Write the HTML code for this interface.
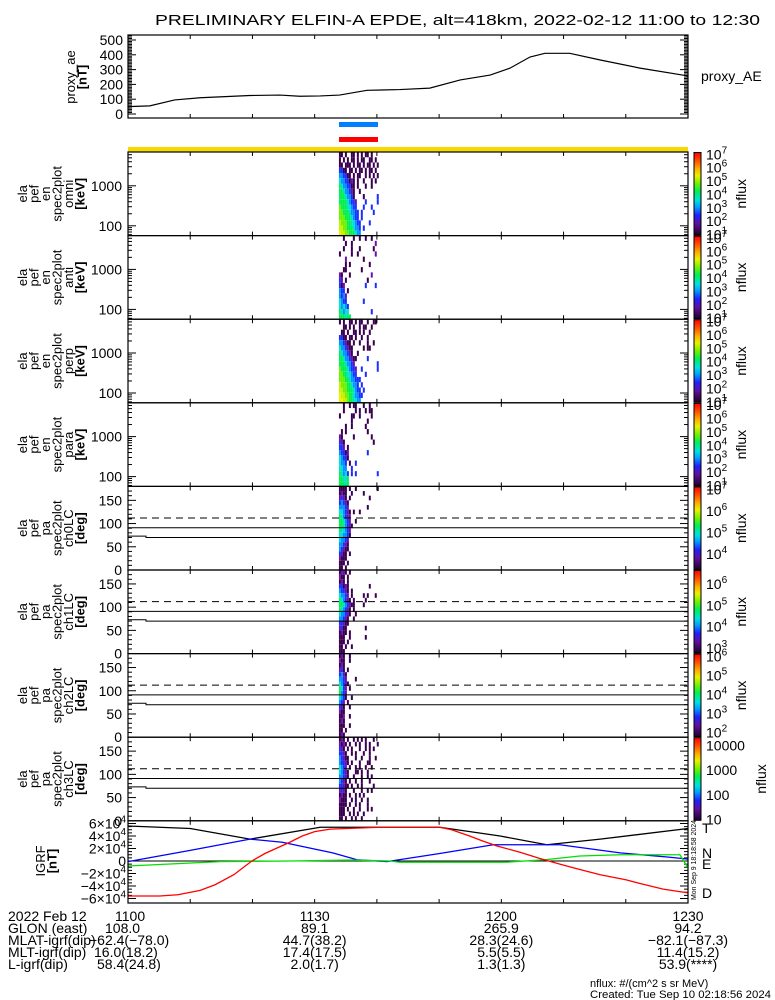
<!DOCTYPE html>
<html><head><meta charset="utf-8">
<style>
html,body{margin:0;padding:0;background:#fff;}
svg{display:block;font-family:"Liberation Sans",sans-serif;}
text{fill:#000;}
</style></head>
<body>
<svg id="chart" width="775" height="1000" viewBox="0 0 775 1000" xmlns="http://www.w3.org/2000/svg">
<defs>
<linearGradient id="cbar" x1="0" y1="0" x2="0" y2="1">
<stop offset="0" stop-color="#ff0000"/><stop offset="0.1" stop-color="#ff5000"/>
<stop offset="0.2" stop-color="#ffb000"/><stop offset="0.28" stop-color="#e8f000"/>
<stop offset="0.38" stop-color="#70f000"/><stop offset="0.47" stop-color="#00f050"/>
<stop offset="0.58" stop-color="#00e0e0"/><stop offset="0.66" stop-color="#00a0ff"/>
<stop offset="0.76" stop-color="#2020ff"/><stop offset="0.86" stop-color="#6010a0"/>
<stop offset="1" stop-color="#200028"/>
</linearGradient>
</defs>
</svg>
<script>
// ---- data ----
const aeTimes = [0,3.5,7.5,11.6,19.6,24.4,27.6,30.9,34,38.4,43.7,48.5,53.4,58.2,61.4,64.6,67,71,75.9,82.3,90];
const aeValues = [50,55,95,110,125,128,120,122,128,160,165,175,230,263,310,385,410,410,365,310,257];
const igrfTTimes = [0,10,19.6,30.9,50.1,59.8,67.3,75.9,90];
const igrfTValues = [56000,52000,35000,54000,54000,40000,26000,35000,52000];
const igrfNTimes = [0,10,19.6,24.8,32.9,36.8,41.6,50.1,58.7,69.4,79.1,87.1,90];
const igrfNValues = [-1000,17000,35000,30000,13000,2000,-1000,12000,26000,26000,13000,6000,3000];
const igrfETimes = [0,14.8,26,35.7,42.1,43.7,60.6,67,72.6,79.1,88.7,90];
const igrfEValues = [-8000,-1000,0,1500,0,-2000,-2000,2000,8000,10000,10000,-11000];
const igrfDTimes = [0,5.1,8,11.6,14,17,19.9,22,26,28,30,32.5,40.5,50.1,52,54.9,57,59.3,63,66.2,69.4,72,75.9,80,82.3,86,90];
const igrfDValues = [-56000,-56000,-54000,-47000,-38000,-22000,0,12000,30000,40000,47000,51000,54000,54000,50000,40000,32000,24000,14000,4000,-5000,-12000,-22000,-30000,-36000,-45000,-51000];
const timeTickLabels = ["1100","1130","1200","1230"];
const glonLabels = ["108.0","89.1","265.9","94.2"];
const mlatLabels = ["","44.7(38.2)","28.3(24.6)","-82.1(-87.3)"];
const mltLabels = ["","17.4(17.5)","5.5(5.5)","11.4(15.2)"];
const lLabels = ["58.4(24.8)","2.0(1.7)","1.3(1.3)","53.9(****)"];
const specStart = 33.9, specDt = 0.32;
const energyEdges = [7000,5173,3823,2826,2088,1543,1141,843,623,461,340,252,186,137,102,75,56];
const paEdges = [180,170,160,150,140,130,120,110,100,90,80,70,60,50,40,30,20,10,0];
const omniSpec = ["pp.p..pp.p.p.pp.p...","p.p.p.pp.p.pp..pp.p.","pp.ppp.p.pp.p.pp.p.p","bbpp.pp.p.pp.p.pp.p.","ccbbpp.p.pp..p.p.p.p","tccbbpvp.p..p...p.p.","gtccbbpp.p...p..p...","ggtccbvp..p.........","gggtccbp....p......b","ggggtcbbv....b.....b","lgggttcbb...b...b...","llgggtccbb.b.....b..","lllgggtcbb.b........","ylllggttcbb....b....","yyllgggtccb.b.......","Yyyllgggtcc........."];
const antiSpec = ["..p....p..p..p..p...","...p..p...........v.","..p...p...p......p..","p.....p..p........v.","...v........p.......","...p.p.........p....","..pp.......p........","vp...p..........v...","bv.p..........p.....","bpv..........b....b.","cbb.p...............","cbcv................","tcbb........b.......","tctcb...............","gtctt...........b...","gggtgg.............."];
const perpSpec = ["p.p..pp.p.pp..p..pp.","..pp.p.p..p.pp..p...",".pp.p..pp.p.p..p....","bbpp.pp.p..p..p.....","ccbvpp.p..p...p..p..","tccbvpp.....p.pp....","gtccbvp..p..........","ggtccbvpp.....b.....","gggtccbv...........b","lgggtcbbv..b.......b","llggttcbb....b......","lllggtccbbb.........","ylllggtccb.b........","yyllgggtcbb.b.......","YyyllggtccbB........","YYyylggttcc........."];
const paraSpec = ["..p..p.pp...p..p....","..p.....p.p..p.pp...","p.....pp..p.....p...","......p.......p.....","...p..p......p......",".p.p..........p.....","vp.....p........p...","bvp..............p..","bbv.p...............","cbbpv.........b.....","tcbbp...............","tccb.p..b...........","ttcc..b.............","gtctb.b.b..........b","ggttg...............","gggtg..............."];
const ch0Spec = ["pppp.p..p..........p","pvpp..p.....p.......","vbvp.p.........p....","bcbvp...............","cccbv.........p.....","ttcbvp.p..p.........","gtcbvv..............","ggtcbv..p...........","ggtcbvp.............","gttcbv..............","ttccbp..............","tccbv...............","ccbvp...............","cbvpp...............","bvpp.p..............","vppp................","ppp.p...............","pp.p................"];
const ch1Spec = ["pvvp.p..............","vpp.p...............","pvp.p...............","bbpvp..........p....","cbbvp.p.............","tccbv.p.....p.p...p.","gtcbvp.p.....p......","ggtcbvpp....p.......","gtcbvp.p............","tccbvp..p...........","ccbvp..p............","bbvpp...............","vbpp.........p......","pvpp.p..............","ppp..p.......p......","ppp.p...............","pp.p..p.............","ppp................."];
const ch2Spec = ["pvp..p..............","vpp..p..............","pvp.................","vbp.p...............","bcvp................","ccbv....p...........","tcbvp...............","gtbv.p..............","gcbv................","tcbp..p.............","cbv.p...............","bvp..p..............","vpp.................","ppv..p..............","pvp.................","ppp..p..............","pp.p................","pvp................."];
const ch3Spec = ["pvp.p..p.p.p.p...p..","vpvp.p..p.p..p.p...p","bvp.p.p...p..p.p.p..","bbvp..p.p...p..p....","cbvpp...p..p...p..p.","cbbvp.p...p...pp....","tcbv.p..p.p..p..p...","tcbvp...pp.p..p.....","ccbvp..p...p..p.p...","cbvp.p..p..p...p....","bbvpp.p..p.p.....p..","vbvp...p...p..p.p...","pvpp.p..p.p.p.......","vppp..p.p..p..p.....","pppp.p..p.p...p.....","ppp.p..p..p...p.p...","ppp..p.p.p..p.......","pp.p..p.p..p........"];
const paLines = [112, 91, 70];

// ---- helpers ----
const NS = "http://www.w3.org/2000/svg";
const svg = document.getElementById('chart');
function mk(tag, a, p){ const e=document.createElementNS(NS,tag); for(const k in a) e.setAttribute(k,a[k]); (p||svg).appendChild(e); return e; }
function tx(s, a, p){ const e=mk('text',a,p); e.textContent=s; return e; }
const X0=128, X1=688, TMAX=90;
const X = t => X0 + t*(X1-X0)/TMAX;
const colors = {p:'#3a0050',v:'#6a10b0',b:'#1830ff',B:'#1830ff',c:'#0090ff',t:'#00e0d0',g:'#00f050',l:'#70f000',y:'#c8f000',Y:'#f0f000'};
const PH = 83.6;
const tops = [152,152+PH,152+2*PH,152+3*PH,152+4*PH,152+5*PH,152+6*PH,152+7*PH];

// ---- title ----
const title = tx("PRELIMINARY ELFIN-A EPDE, alt=418km, 2022-02-12 11:00 to 12:30",{x:155,y:25,'font-size':15,textLength:605,lengthAdjust:'spacingAndGlyphs'});



function xTicks(top, bot, g){
  for(let t=10;t<TMAX;t+=10){
    const a=mk('line',{x1:X(t),x2:X(t),y1:top,y2:top+4,stroke:'#000'},g);
    
    
    const b=mk('line',{x1:X(t),x2:X(t),y1:bot-4,y2:bot,stroke:'#000'},g);
    
    
  }
}
function frame(top, bot, g){
  const r=mk('rect',{x:X0,y:top,width:X1-X0,height:bot-top,fill:'none',stroke:'#000','stroke-width':1.2},g);
  
  
}
function yLabelCols(words, cx0, cy, g, boldLast){
  words.forEach((w,i)=>{
    const x=cx0+i*11.5;
    const t=tx(w,{x:x,y:cy,'font-size':13,'text-anchor':'middle',transform:`rotate(-90 ${x} ${cy})`,'font-weight':(boldLast&&i===words.length-1)?'bold':'normal'},g);
    
    
  });
}
function ytick(y, len, g){
  const a=mk('line',{x1:X0,x2:X0+len,y1:y,y2:y,stroke:'#000'},g);
  
  
  const b=mk('line',{x1:X1-len,x2:X1,y1:y,y2:y,stroke:'#000'},g);
  
  
}

// ---- proxy AE panel ----
{
  const g=mk('g',{});
  
  
  const top=35, bot=118;
  const Y = v => 114 - v*0.148;
  for(let v=0; v<=530; v+=10){ ytick(Y(v), v%100===0?8:4, g); }
  [0,100,200,300,400,500].forEach(v=>{
    const t=tx(String(v),{x:123,y:Y(v)+5,'font-size':14,'text-anchor':'end'},g);
    
    
  });
  const pts=aeTimes.map((t,i)=>X(t)+','+Y(aeValues[i])).join(' ');
  const l=mk('polyline',{points:pts,fill:'none',stroke:'#000','stroke-width':1.2},g);
  
  
  frame(top,bot,g); xTicks(top,bot,g);
  yLabelCols(['proxy_ae','[nT]'],75,77,g,true);
  const r=tx('proxy_AE',{x:701,y:81,'font-size':14},g);
  
  
}

// ---- science zone bars ----
{
  const b=mk('rect',{x:339,y:122,width:39,height:5,fill:'#0080ff'});
  
  
  const r=mk('rect',{x:339,y:137,width:39,height:5,fill:'#ff0000'});
  
  
  const y=mk('rect',{x:X0,y:147,width:X1-X0,height:5,fill:'#f8d800'});
  
  
}

// ---- colorbar ----
function colorbar(top, lo, hi, labels, g, plain){
  const r=mk('rect',{x:694,y:top+0.5,width:7,height:PH-1,fill:'url(#cbar)',stroke:'#000','stroke-width':1},g);
  
  
  labels.forEach(p=>{
    const y=top+PH-(p-lo)/(hi-lo)*PH;
    const t=tx('',{x:706,y:y+6,'font-size':14},g);
    if(plain){ t.textContent=String(Math.pow(10,p)); }
    else {
      t.textContent='10';
      const s=mk('tspan',{dy:-6,'font-size':10},t); s.textContent=String(p);
    }
    
    
  });
  const cy=top+PH/2, cx=plain?766:746;
  const n=tx('nflux',{x:cx,y:cy,'font-size':14,'text-anchor':'middle',transform:`rotate(-90 ${cx} ${cy})`},g);
  
  
}

function drawSpec(matrix, top, rowY, g){
  matrix.forEach((row,ri)=>{
    for(let ci=0;ci<row.length;ci++){
      const ch=row[ci]; if(ch==='.') continue;
      const y0=rowY(ri), y1=rowY(ri+1);
      const t0=specStart+ci*specDt;
      const c=mk('rect',{x:X(t0),y:y0,width:X(t0+specDt)-X(t0),height:y1-y0,fill:colors[ch]},g);
      
      
    }
  });
}

// ---- energy panels ----
const eNames=['omni','anti','perp','para'];
const eData=[omniSpec,antiSpec,perpSpec,paraSpec];
eNames.forEach((nm,i)=>{
  const g=mk('g',{});
  
  
  const top=tops[i], bot=top+PH;
  const Y = e => top + (Math.log10(7000)-Math.log10(e))*40;
  drawSpec(eData[i], top, r=>Y(energyEdges[r]), g);
  for(let d=10; d<=1000; d*=10){ for(let m=1;m<10;m++){ const e=d*m; const y=Y(e); if(y>top+0.5&&y<bot-0.5) ytick(y, m===1?8:4, g); } }
  [100,1000].forEach(v=>{
    const t=tx(String(v),{x:122,y:Y(v)+5,'font-size':14,'text-anchor':'end'},g);
    
    
  });
  frame(top,bot,g); xTicks(top,bot,g);
  yLabelCols(['ela','pef','en','spec2plot',nm,'[keV]'],27,top+PH/2,g,true);
  colorbar(top,0.85,7.1,[1,2,3,4,5,6,7],g,false);
});

// ---- pitch-angle panels ----
const paNames=['ch0LC','ch1LC','ch2LC','ch3LC'];
const paData=[ch0Spec,ch1Spec,ch2Spec,ch3Spec];
const cbRanges=[[3.2,7.1,[4,5,6,7]],[2.7,6.6,[3,4,5,6]],[1.7,6.1,[2,3,4,5,6]],[0.9,4.3,[1,2,3,4]]];
paNames.forEach((nm,i)=>{
  const g=mk('g',{});
  
  
  const top=tops[4+i], bot=top+PH;
  const Y = a => top + (180-a)/180*PH;
  drawSpec(paData[i], top, r=>Y(paEdges[r]), g);
  for(let a=10;a<180;a+=10) ytick(Y(a), a%50===0?8:4, g);
  [0,50,100,150].forEach(v=>{
    const t=tx(String(v),{x:122,y:Y(v)+5,'font-size':14,'text-anchor':'end'},g);
    
    
  });
  const d=mk('line',{x1:X0,x2:X1,y1:Y(paLines[0]),y2:Y(paLines[0]),stroke:'#000','stroke-dasharray':'7,5'},g);
  
  
  const s1=mk('line',{x1:X0,x2:X1,y1:Y(paLines[1]),y2:Y(paLines[1]),stroke:'#000'},g);
  
  
  const s2=mk('polyline',{points:`${X0},${Y(paLines[2]+3)} ${X0+18},${Y(paLines[2]+3)} ${X0+18},${Y(paLines[2])} ${X1},${Y(paLines[2])}`,fill:'none',stroke:'#000'},g);
  
  
  frame(top,bot,g); xTicks(top,bot,g);
  yLabelCols(['ela','pef','pa','spec2plot',nm,'[deg]'],27,top+PH/2,g,true);
  colorbar(top,cbRanges[i][0],cbRanges[i][1],cbRanges[i][2],g,i===3);
});

// ---- IGRF panel ----
{
  const g=mk('g',{});
  
  
  const top=152+8*PH, bot=903;
  const Y = v => 861 - v*0.000625;
  for(let v=-60000; v<=60000; v+=5000) ytick(Y(v), v%20000===0?8:4, g);
  [60000,40000,20000,0,-20000,-40000,-60000].forEach(v=>{
    const t=tx('',{x:126,y:Y(v)+5,'font-size':14,'text-anchor':'end'},g);
    if(v===0){ t.textContent='0'; }
    else { t.textContent=(v<0?'\u2212':'')+Math.abs(v/10000)+'\u00d710'; const s=mk('tspan',{dy:-6,'font-size':10},t); s.textContent='4'; }
    
    
  });
  const z=mk('line',{x1:X0,x2:X1,y1:Y(0),y2:Y(0),stroke:'#000'},g);
  
  
  const series=[[igrfTTimes,igrfTValues,'#000','igrf-total-line'],[igrfNTimes,igrfNValues,'#0000ff','igrf-north-line'],[igrfETimes,igrfEValues,'#00e000','igrf-east-line'],[igrfDTimes,igrfDValues,'#ff0000','igrf-down-line']];
  series.forEach(s=>{
    const pts=s[0].map((t,i)=>X(t)+','+Y(s[1][i])).join(' ');
    const l=mk('polyline',{points:pts,fill:'none',stroke:s[2],'stroke-width':1.3},g);
    
    
  });
  frame(top,bot,g); xTicks(top,bot,g);
  yLabelCols(['IGRF','[nT]'],45,861,g,true);
  [['T','#000',828],['N','#0000ff',853],['E','#00e000',864],['D','#ff0000',893]].forEach(a=>{
    const t=tx(a[0],{x:702,y:a[2]+5,'font-size':14,fill:a[1]},g);
    t.setAttribute('fill',a[1]);
    
    
  });
  const st=tx('Mon Sep  9 18:18:58 2024',{x:696,y:900,'font-size':7,transform:'rotate(-90 696 900)',textLength:80,lengthAdjust:'spacingAndGlyphs'},g);
  
  
}

// ---- bottom annotation ----
{
  const g=mk('g',{});
  
  
  const rowsY=[921,933,945,957,969];
  const heads=['2022 Feb 12','GLON (east)','MLAT-igrf(dip)','MLT-igrf(dip)','L-igrf(dip)'];
  heads.forEach((h,i)=>{
    const t=tx(h,{x:8,y:rowsY[i],'font-size':14},g);
    
    
  });
  const colX=[X(0)-15,X(30),X(60),X(90)];
  const rows=[timeTickLabels,glonLabels,mlatLabels,mltLabels,lLabels];
  rows.forEach((arr,ri)=>{
    arr.forEach((s,ci)=>{
      if(!s) return;
      const x = ci===0 ? colX[0] : colX[ci];
      const t=tx(s.replace(/-/g,'\u2212'),{x:ci===0?(ri===0?115:ri===1?105:97):x,y:rowsY[ri],'font-size':14,'text-anchor':ci===0?'start':'middle'},g);
      
      
    });
  });
  const m1=tx('\u221262.4(\u221278.0)',{x:89,y:rowsY[2],'font-size':14},g);
  
  
  const m2=tx('16.0(18.2)',{x:94,y:rowsY[3],'font-size':14},g);
  
  
  const f1=tx('nflux: #/(cm^2 s sr MeV)',{x:590,y:987,'font-size':11},g);
  
  
  const f2=tx('Created: Tue Sep 10 02:18:56 2024',{x:590,y:998,'font-size':11,textLength:181,lengthAdjust:'spacingAndGlyphs'},g);
  
  
}
</script>
</body></html>
